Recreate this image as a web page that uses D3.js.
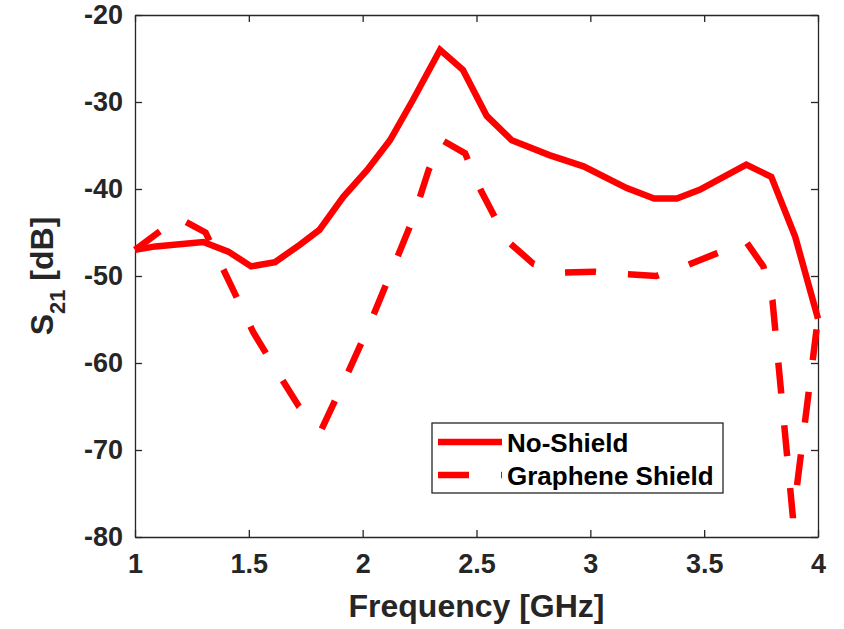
<!DOCTYPE html>
<html lang="en">
<head>
    <meta charset="UTF-8">
    <title>S21 vs Frequency</title>
    <script src="https://d3js.org/d3.v7.min.js"></script>
    <style>
        body {
            margin: 0;
            background: white;
        }

        svg text {
            font-family: "Liberation Sans", Arial, Helvetica, sans-serif;
            font-weight: bold;
        }

        .tick-label {
            font-size: 27px;
            fill: #262626;
        }

        .axis-label {
            font-size: 32px;
            fill: #262626;
        }

        .legend-text {
            font-size: 26px;
            fill: #000;
        }
    </style>
</head>
<body>
    <div id="chart"></div>
    <script>
        // No-Shield (solid)
        const noShieldFreq = [1.00, 1.09, 1.30, 1.41, 1.51, 1.615, 1.725, 1.81, 1.915, 2.02, 2.12, 2.22, 2.34, 2.44, 2.545, 2.655, 2.82, 2.97, 3.16, 3.28, 3.38, 3.48, 3.685, 3.795, 3.90, 4.00];
        const noShieldDb = [-47.0, -46.6, -46.1, -47.2, -48.9, -48.4, -46.4, -44.7, -40.9, -37.8, -34.4, -29.8, -24.0, -26.3, -31.6, -34.4, -36.1, -37.4, -39.9, -41.1, -41.1, -40.1, -37.2, -38.6, -45.5, -54.9];

        // Graphene Shield (dashed)
        const grapheneFreq = [1.00, 1.19, 1.31, 1.42, 1.52, 1.62, 1.72, 1.82, 1.92, 2.02, 2.12, 2.22, 2.29, 2.35, 2.45, 2.52, 2.58, 2.65, 2.75, 2.88, 3.02, 3.16, 3.29, 3.43, 3.555, 3.685, 3.76, 3.80, 3.89, 4.00];
        const grapheneDb = [-47.0, -43.3, -45.0, -51.0, -56.5, -60.8, -65.0, -67.6, -62.0, -56.2, -49.9, -43.5, -37.8, -34.4, -35.9, -40.2, -43.2, -46.3, -48.6, -49.6, -49.5, -49.8, -50.0, -48.7, -47.4, -46.1, -48.9, -52.8, -77.8, -54.8];

        const xTicks = [1, 1.5, 2, 2.5, 3, 3.5, 4];
        const yTicks = [-80, -70, -60, -50, -40, -30, -20];
        const seriesNames = ["No-Shield", "Graphene Shield"];

        const W = 844, H = 629;
        const margin = { top: 15, right: 26, bottom: 92, left: 135 };
        const width = W - margin.left - margin.right;
        const height = H - margin.top - margin.bottom;
        const axisColor = "#262626";
        const lineColor = "#ff0000";
        const lineWidth = 6.5;
        const dash = "31,32";

        const svg = d3.select("#chart")
            .append("svg")
            .attr("width", W)
            .attr("height", H);

        const g = svg.append("g")
            .attr("transform", `translate(${margin.left},${margin.top})`);

        const x = d3.scaleLinear().domain([1, 4]).range([0, width]);
        const y = d3.scaleLinear().domain([-80, -20]).range([height, 0]);

        // axes box with inward ticks on all four sides
        const styleAxis = sel => {
            sel.select(".domain").attr("stroke", axisColor).attr("stroke-width", 1.3);
            sel.selectAll(".tick line").attr("stroke", axisColor).attr("stroke-width", 1.3);
        };

        g.append("g")
            .attr("transform", `translate(0,${height})`)
            .call(d3.axisBottom(x).tickValues(xTicks).tickSizeInner(-7).tickSizeOuter(0).tickPadding(17)
                .tickFormat(d => String(d)))
            .call(styleAxis)
            .call(a => a.selectAll("text").attr("class", "tick-label").attr("fill", axisColor));

        g.append("g")
            .call(d3.axisLeft(y).tickValues(yTicks).tickSizeInner(-7).tickSizeOuter(0).tickPadding(12)
                .tickFormat(d => String(d)))
            .call(styleAxis)
            .call(a => a.selectAll("text").attr("class", "tick-label").attr("fill", axisColor));

        g.append("g")
            .call(d3.axisTop(x).tickValues(xTicks).tickSizeInner(-7).tickSizeOuter(0).tickFormat(""))
            .call(styleAxis);

        g.append("g")
            .attr("transform", `translate(${width},0)`)
            .call(d3.axisRight(y).tickValues(yTicks).tickSizeInner(-7).tickSizeOuter(0).tickFormat(""))
            .call(styleAxis);

        // lines
        const line = d3.line()
            .x(d => x(d[0]))
            .y(d => y(d[1]));

        const noShield = noShieldFreq.map((f, i) => [f, noShieldDb[i]]);
        const graphene = grapheneFreq.map((f, i) => [f, grapheneDb[i]]);

        g.append("path")
            .datum(noShield)
            .attr("d", line)
            .attr("fill", "none")
            .attr("stroke", lineColor)
            .attr("stroke-width", lineWidth);

        g.append("path")
            .datum(graphene)
            .attr("d", line)
            .attr("fill", "none")
            .attr("stroke", lineColor)
            .attr("stroke-width", lineWidth)
            .attr("stroke-dasharray", dash);

        // X axis label
        svg.append("text")
            .attr("class", "axis-label")
            .attr("x", margin.left + width / 2)
            .attr("y", 617)
            .attr("text-anchor", "middle")
            .text("Frequency [GHz]");

        // Y axis label: S with subscript 21
        const yLabel = svg.append("text")
            .attr("class", "axis-label")
            .attr("transform", `translate(53,${margin.top + height / 2}) rotate(-90)`)
            .attr("text-anchor", "middle");
        yLabel.append("tspan").text("S");
        yLabel.append("tspan").attr("dy", 12).style("font-size", "22px").text("21");
        yLabel.append("tspan").attr("dy", -12).text(" [dB]");

        // legend
        const legend = svg.append("g")
            .attr("transform", "translate(432,423)");

        legend.append("rect")
            .attr("width", 291)
            .attr("height", 70)
            .attr("fill", "white")
            .attr("stroke", axisColor)
            .attr("stroke-width", 1.3);

        seriesNames.forEach((name, i) => {
            const ly = 19 + i * 33;
            legend.append("line")
                .attr("x1", 6)
                .attr("x2", 70)
                .attr("y1", ly)
                .attr("y2", ly)
                .attr("stroke", lineColor)
                .attr("stroke-width", lineWidth)
                .attr("stroke-dasharray", i === 1 ? dash : null);
            legend.append("text")
                .attr("class", "legend-text")
                .attr("x", 75)
                .attr("y", ly + 9.5)
                .text(name);
        });
    </script>
</body>
</html>
